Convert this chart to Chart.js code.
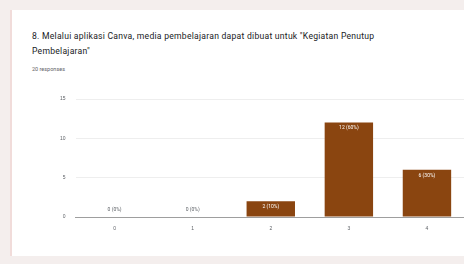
<!DOCTYPE html>
<html>
<head>
<meta charset="utf-8">
<script src="https://cdn.jsdelivr.net/npm/chart.js@4"></script>
<style>
  body { margin: 0; width: 464px; height: 264px; background: #f4eeed; font-family: Roboto, Arial, sans-serif; overflow: hidden; }
  .card { position: absolute; left: 10px; top: 10px; width: 452px; height: 246px; background: #fff; border-left: 2px solid #f1dcda; }
  .title { position: absolute; left: 20px; top: 19px; width: 375px; font-size: 8.6px; letter-spacing: 0.25px; line-height: 15px; color: #202124; }
  .count { position: absolute; left: 20px; top: 56px; font-size: 5.5px; color: #5f6368; }
  .chart-box { position: absolute; left: 38px; top: 76px; width: 416px; height: 147px; }
</style>
</head>
<body>
<div class="card">
  <div class="title">8. Melalui aplikasi Canva, media pembelajaran dapat dibuat untuk "Kegiatan Penutup Pembelajaran"</div>
  <div class="count">20 responses</div>
  <div class="chart-box"><canvas id="myChart"></canvas></div>
</div>
<script>
  const categories = ['0', '1', '2', '3', '4'];
  const counts = [0, 0, 2, 12, 6];
  const yTicks = [0, 5, 10, 15];
  const total = counts.reduce((a, b) => a + b, 0);

  // labels like "12 (60%)" drawn at the top of each bar
  const barLabels = {
    id: 'barLabels',
    afterDatasetsDraw(chart) {
      const ctx = chart.ctx;
      const meta = chart.getDatasetMeta(0);
      ctx.save();
      ctx.font = '5px Roboto, Arial, sans-serif';
      ctx.textAlign = 'center';
      meta.data.forEach((bar, i) => {
        const text = `${counts[i]} (${Math.round(counts[i] / total * 100)}%)`;
        if (counts[i] > 0) {
          ctx.fillStyle = '#ffffff';
          ctx.textBaseline = 'top';
          ctx.fillText(text, bar.x, bar.y + 3);
        } else {
          ctx.fillStyle = '#5f6368';
          ctx.textBaseline = 'bottom';
          ctx.fillText(text, bar.x, bar.y - 5);
        }
      });
      ctx.restore();
    },
  };

  new Chart(document.getElementById('myChart'), {
    type: 'bar',
    data: {
      labels: categories,
      datasets: [{
        data: counts,
        backgroundColor: '#8a4510',
        categoryPercentage: 1,
        barPercentage: 0.62,
      }],
    },
    options: {
      responsive: true,
      maintainAspectRatio: false,
      animation: false,
      layout: { padding: { top: 4, right: 0 } },
      scales: {
        x: {
          grid: { display: false },
          border: { color: '#9e9e9e' },
          ticks: { color: '#5f6368', font: { size: 5 }, padding: 1 },
        },
        y: {
          min: 0,
          max: 15,
          afterBuildTicks: (axis) => { axis.ticks = yTicks.map((v) => ({ value: v })); },
          grid: { color: '#eeeeee', drawTicks: false },
          border: { display: false },
          ticks: { color: '#5f6368', font: { size: 5 }, padding: 10 },
        },
      },
      plugins: {
        legend: { display: false },
        tooltip: { enabled: false },
      },
    },
    plugins: [barLabels],
  });
</script>
</body>
</html>
